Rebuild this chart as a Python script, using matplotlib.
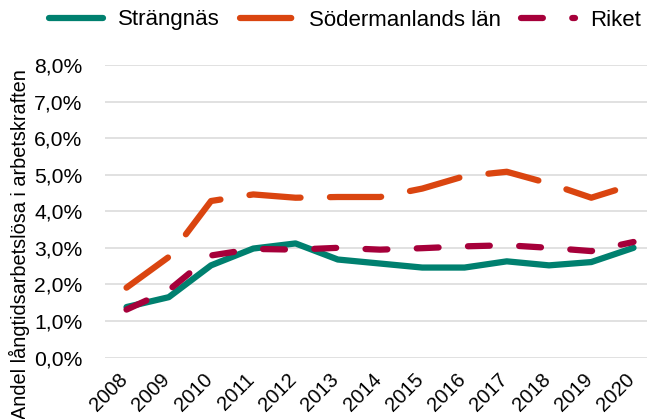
import matplotlib
matplotlib.use("Agg")
import matplotlib.pyplot as plt
import matplotlib.transforms as mtransforms
from matplotlib.ticker import FuncFormatter

plt.rcParams["font.family"] = ["Liberation Sans", "DejaVu Sans"]

years = ["2008", "2009", "2010", "2011", "2012", "2013", "2014",
         "2015", "2016", "2017", "2018", "2019", "2020"]
strangnas = [1.38, 1.65, 2.52, 2.98, 3.12, 2.68, 2.57, 2.46, 2.46, 2.63, 2.52, 2.61, 3.00]
sodermanland = [1.91, 2.75, 4.28, 4.46, 4.37, 4.39, 4.39, 4.62, 4.96, 5.08, 4.76, 4.37, 4.73]
riket = [1.31, 1.84, 2.79, 2.97, 2.95, 3.00, 2.95, 2.99, 3.04, 3.07, 3.00, 2.91, 3.16]

W, H = 647, 419
fig = plt.figure(figsize=(W / 100, H / 100), dpi=100)
# plot area in pixels: left 105, right ~654 (cut by the image edge), y 0% at 357.5, 8% at 65
ax = fig.add_axes([105.4 / W, 1 - 357.5 / H, 13 * 42.25 / W, 292.5 / H])

x = list(range(len(years)))
lw = 4.5
ax.plot(x, strangnas, color="#00806F", lw=lw, solid_capstyle="round",
        solid_joinstyle="round", label="Strängnäs", zorder=3)
ax.plot(x, sodermanland, color="#DA4510", lw=lw, dashes=(8.2, 4.7),
        dash_capstyle="round", dash_joinstyle="round",
        label="Södermanlands län", zorder=4)
ax.plot(x, riket, color="#A6003A", lw=lw, dashes=(3.5, 4.7),
        dash_capstyle="round", dash_joinstyle="round",
        label="Riket", zorder=5)

ax.set_xlim(-0.5, len(years) - 0.5)
ax.set_ylim(0, 8)
ax.set_yticks(range(0, 9))
ax.yaxis.set_major_formatter(FuncFormatter(lambda v, p: f"{v:.1f}%".replace(".", ",")))
ax.grid(axis="y", color="#D9D9D9", lw=1.1)
ax.set_axisbelow(True)
for s in ax.spines.values():
    s.set_visible(False)

ax.tick_params(axis="y", length=0, pad=16.5, labelsize=15.2)
ax.tick_params(axis="x", length=0, pad=9, labelsize=14.5)
ax.set_xticks(x)
ax.set_xticklabels(years, rotation=45, ha="right", va="top")
shift = mtransforms.ScaledTranslation(5 / 100, 0, fig.dpi_scale_trans)
for lab in ax.get_xticklabels():
    lab.set_transform(lab.get_transform() + shift)

fig.text(19 / W, 1 - 244 / H, "Andel långtidsarbetslösa i arbetskraften",
         rotation=90, ha="center", va="center", fontsize=14.3)

fig.legend(loc="center left", bbox_to_anchor=(49 / W, 1 - 20 / H), ncol=3,
           frameon=False, fontsize=16, handlelength=2.43, handletextpad=0.68,
           columnspacing=0.9, borderpad=0, borderaxespad=0)

fig.savefig("out.png", dpi=100)
